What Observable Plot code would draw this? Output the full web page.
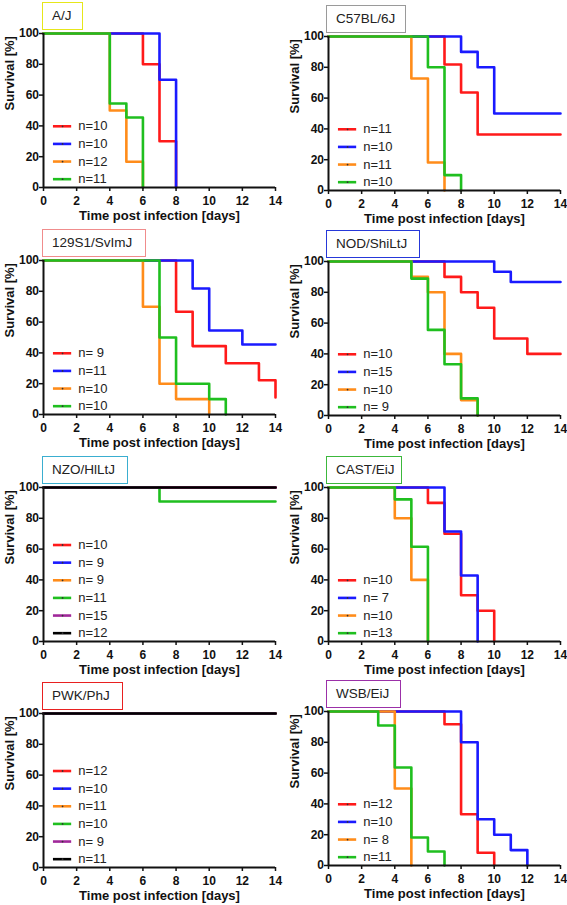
<!DOCTYPE html>
<html><head><meta charset="utf-8">
<script src="https://cdn.jsdelivr.net/npm/d3@7"></script>
<script src="https://cdn.jsdelivr.net/npm/@observablehq/plot@0.6"></script>
<style>
body{margin:0;background:#fff;}
#wrap{position:relative;width:567px;height:905px;overflow:hidden;background:#fff;font-family:"Liberation Sans",Arial,sans-serif;}
.panel{position:absolute;}
.tag{position:absolute;box-sizing:border-box;height:28px;border:1.5px solid;background:#fff;font-size:13.5px;line-height:25px;padding-left:9px;color:#222;white-space:nowrap;}
</style></head><body><div id="wrap"></div>
<script>
// ---- data ----
const xTicks = [0, 2, 4, 6, 8, 10, 12, 14];
const yTicks = [0, 20, 40, 60, 80, 100];
const panelNames = ["A/J", "C57BL/6J", "129S1/SvImJ", "NOD/ShiLtJ", "NZO/HlLtJ", "CAST/EiJ", "PWK/PhJ", "WSB/EiJ"];
const xTitle = "Time post infection [days]";
const yTitle = "Survival [%]";

const ajN = ["n=10", "n=10", "n=12", "n=11"];
const ajDays = [[6, 7, 8], [7, 8], [4, 5, 6], [4, 5, 6]];
const ajSurv = [[80, 30, 0], [70, 0], [50, 16.7, 0], [54.5, 45.5, 0]];

const c57N = ["n=11", "n=10", "n=11", "n=10"];
const c57Days = [[7, 8, 9], [8, 9, 10], [5, 6, 7], [6, 7, 8]];
const c57Surv = [[81.8, 63.6, 36.4], [90, 80, 50], [72.7, 18.2, 0], [80, 10, 0]];

const s129N = ["n= 9", "n=11", "n=10", "n=10"];
const s129Days = [[8, 9, 11, 13, 14], [9, 10, 12], [6, 7, 8, 10], [7, 8, 10, 11]];
const s129Surv = [[66.7, 44.4, 33.3, 22.2, 11.1], [81.8, 54.5, 45.5], [70, 20, 10, 0], [50, 20, 10, 0]];

const nodN = ["n=10", "n=15", "n=10", "n= 9"];
const nodDays = [[7, 8, 9, 10, 12], [10, 11], [5, 6, 7, 8, 9], [5, 6, 7, 8, 9]];
const nodSurv = [[90, 80, 70, 50, 40], [93.3, 86.7], [90, 80, 40, 10, 0], [88.9, 55.6, 33.3, 11.1, 0]];

const nzoN = ["n=10", "n= 9", "n= 9", "n=11", "n=15", "n=12"];
const nzoDays = [[], [], [], [7], [], []];
const nzoSurv = [[], [], [], [90.9], [], []];

const castN = ["n=10", "n= 7", "n=10", "n=13"];
const castDays = [[6, 7, 8, 9, 10], [7, 8, 9], [4, 5, 6], [4, 5, 6]];
const castSurv = [[90, 70, 30, 20, 0], [71.4, 42.9, 0], [80, 40, 0], [92.3, 61.5, 0]];

const pwkN = ["n=12", "n=10", "n=11", "n=10", "n= 9", "n=11"];
const pwkDays = [[], [], [], [], [], []];
const pwkSurv = [[], [], [], [], [], []];

const wsbN = ["n=12", "n=10", "n= 8", "n=11"];
const wsbDays = [[7, 8, 9, 10], [8, 9, 10, 11, 12], [4, 5], [3, 4, 5, 6, 7]];
const wsbSurv = [[91.7, 33.3, 8.3, 0], [80, 30, 20, 10, 0], [50, 0], [90.9, 63.6, 18.2, 9.1, 0]];

// ---- styles / layout ----
const seriesColors = ["#ff1a1a", "#1a1aff", "#ff8c1a", "#1fbf1f", "#a0289a", "#000000"];
const tagColors = ["#e6e61a", "#9a9a9a", "#f08c8c", "#2638d9", "#3aaed0", "#3cb83c", "#e82020", "#9b30a8"];
const tagWidths = [41, 80, 104, 94, 86, 76, 81, 75];
const panelLeft = [0, 285, 0, 285, 0, 285, 0, 285];
const panelTop = [0, 3, 227, 228, 454, 454, 680, 678];

const panelData = [
  [ajN, ajDays, ajSurv], [c57N, c57Days, c57Surv], [s129N, s129Days, s129Surv], [nodN, nodDays, nodSurv],
  [nzoN, nzoDays, nzoSurv], [castN, castDays, castSurv], [pwkN, pwkDays, pwkSurv], [wsbN, wsbDays, wsbSurv]
];

const wrap = document.getElementById("wrap");
const xMax = xTicks[xTicks.length - 1];
const yMax = yTicks[yTicks.length - 1];

panelData.forEach(([ns, days, surv], k) => {
  const col = k % 2;
  const pts = [];
  days.forEach((ds, i) => {
    pts.push({k: i, x: 0, y: yMax});
    ds.forEach((t, j) => pts.push({k: i, x: t, y: surv[i][j]}));
    const last = surv[i].length ? surv[i][surv[i].length - 1] : yMax;
    if (last > 0) pts.push({k: i, x: xMax, y: last});
  });
  const m = ns.length;
  const leg = ns.map((lab, i) => ({k: i, label: lab, ly: 5.4 + 11.45 * (m - 1 - i)}));
  const chart = Plot.plot({
    width: col ? 282 : 283, height: 225,
    marginLeft: 43, marginRight: col ? 7 : 8, marginTop: 33, marginBottom: 38,
    x: {domain: [0, xMax]}, y: {domain: [0, yMax]},
    color: {type: "identity"},
    style: {fontFamily: "'Liberation Sans', Arial, sans-serif", color: "#111", background: "transparent"},
    marks: [
      Plot.line(pts, {x: "x", y: "y", z: "k", stroke: d => seriesColors[d.k], strokeWidth: 2.6, curve: "step-after"}),
      Plot.ruleY(leg, {y: "ly", x1: 0.6, x2: 1.7, stroke: d => seriesColors[d.k], strokeWidth: 2.6}),
      Plot.dot(leg, {x: 1.15, y: "ly", r: 0.9, fill: "#333"}),
      Plot.text(leg, {x: 2.1, y: "ly", text: "label", textAnchor: "start", fontSize: 13, fill: "#222"}),
      Plot.ruleX([0], {stroke: "#111", strokeWidth: 2}),
      Plot.ruleY([0], {stroke: "#111", strokeWidth: 2}),
      Plot.axisX({ticks: xTicks, tickSize: 4, tickPadding: 4.5, fontSize: 12, fontWeight: "bold", label: null, strokeWidth: 1.5}),
      Plot.axisY({ticks: yTicks, tickSize: 4, tickPadding: 0.5, fontSize: 12, fontWeight: "bold", label: null, strokeWidth: 1.5}),
      Plot.text([xTitle], {text: d => d, frameAnchor: "bottom", dy: 32, lineAnchor: "bottom", fontSize: 13, fontWeight: "bold", fill: "#111"}),
      Plot.text([yTitle], {text: d => d, frameAnchor: "left", dx: -34, rotate: -90, fontSize: 13, fontWeight: "bold", fill: "#111"})
    ]
  });
  const holder = document.createElement("div");
  holder.className = "panel";
  holder.style.left = panelLeft[k] + "px";
  holder.style.top = panelTop[k] + "px";
  holder.appendChild(chart);
  wrap.appendChild(holder);
});

panelNames.forEach((name, k) => {
  const tag = document.createElement("div");
  tag.className = "tag";
  tag.textContent = name;
  tag.style.left = (panelLeft[k] + 42 - (k % 2 ? 1 : 0)) + "px";
  tag.style.top = (panelTop[k] + 2) + "px";
  tag.style.width = tagWidths[k] + "px";
  tag.style.borderColor = tagColors[k];
  wrap.appendChild(tag);
});
</script>
</body></html>
